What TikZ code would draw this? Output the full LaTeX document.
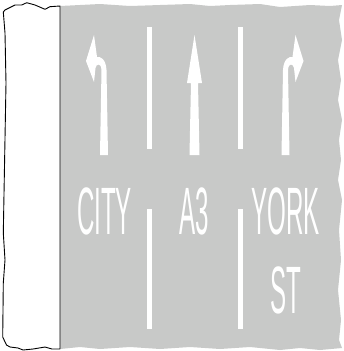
\documentclass[tikz,border=0pt]{standalone}
\usepackage{fontspec}
\newfontfamily\signfont{Liberation Sans}
\usepackage{tikz}
\usetikzlibrary{positioning}
\definecolor{roadgrey}{RGB}{200,201,200}
\newcommand{\lanetext}[1]{\scalebox{0.36}[1]{#1}}

\begin{document}
\begin{tikzpicture}[
    x=1pt, y=-1pt,
    marking/.style={fill=white},
    road/.style={fill=roadgrey},
    strip/.style={draw=black, fill=white, line width=0.9pt, line join=round},
    legend/.style={text=white, inner sep=0pt, anchor=base, font=\signfont\fontsize{67}{67}\selectfont}
]
\useasboundingbox (0,0) rectangle (343,351);

% grey road surface with torn edge
\fill[road] (60,6) -- (80,5) -- (100,4) -- (130,6) -- (160,5) -- (190,4) -- (210,6)
  -- (230,5) -- (260,4) -- (280,7) -- (310,5) -- (330,6) -- (342,5)
  -- (339,20) -- (342,40) -- (338,60) -- (341,80) -- (338,100) -- (342,120)
  -- (339,140) -- (341,160) -- (338,180) -- (342,200) -- (339,230) -- (341,260)
  -- (338,290) -- (341,320) -- (339,340) -- (342,348)
  -- (320,350) -- (300,348) -- (280,350) -- (250,347) -- (220,349) -- (190,347)
  -- (160,349) -- (130,347) -- (100,349) -- (80,347) -- (60,349) -- cycle;

% white paper strip on the left
\draw[strip] (60,6) -- (60,349) -- (52,349) -- (45,347) -- (33,349) -- (23,350)
  -- (18,348) -- (10,347) -- (6.5,345) -- (2.7,337) -- (3.3,283) -- (5,260)
  -- (3.3,233) -- (6,83) -- (5,33) -- (3.3,12) -- (5,10) -- (15,5) -- (21.7,5)
  -- (26.7,2.7) -- (35,5) -- (45,9.3) -- (50,6.7) -- cycle;

% lane dividers
\foreach \lx in {149.5,240.5} {
  \fill[marking] (\lx-2.3,27) rectangle (\lx+2.3,149);
  \fill[marking] (\lx-2.3,209) rectangle (\lx+2.3,329);
}

% turn arrows (left one, mirrored for the right)
\foreach \sx/\dx in {1/0,-1/389.5} {
  \begin{scope}[shift={(\dx,0)}, xscale=\sx]
    \fill[marking] (94,35) -- (86,61) -- (94,82) -- (95.5,68)
      .. controls (96,64) and (101,62) .. (101.5,70) -- (100,155) -- (108,155)
      -- (106.5,70) .. controls (106,59) and (100,56) .. (97,57) -- cycle;
  \end{scope}
}

% straight ahead arrow
\fill[marking] (194.5,35) -- (202,83) -- (198,83) -- (199.5,155) -- (189.5,155)
  -- (191,83) -- (187,83) -- cycle;

% destinations
\node[legend] (city) at (104.5,234) {\lanetext{CITY}};
\node[legend] (athree) at (194,234) {\lanetext{A3}};
\node[legend] (york) at (285.5,234) {\lanetext{YORK}};
\node[legend] (street) at (286,313) {\lanetext{ST}};
\end{tikzpicture}
\end{document}
